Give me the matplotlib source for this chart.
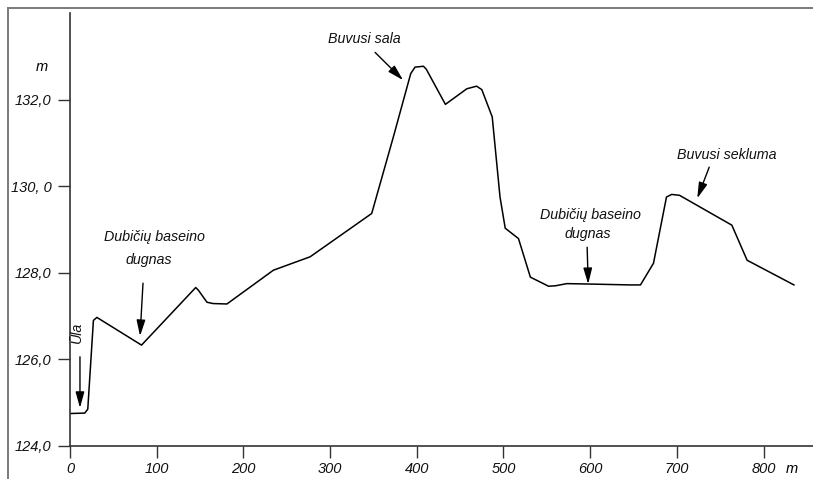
import matplotlib
matplotlib.use("Agg")
import matplotlib.pyplot as plt
from matplotlib.lines import Line2D

plt.rcParams['font.family'] = ['Liberation Sans', 'DejaVu Sans']
plt.rcParams['font.style'] = 'italic'

# Profile: distance along the section (m) and surface elevation (m)
distance = [0, 17, 20.5, 27, 31, 82.5, 145, 148, 158, 165, 181, 234.6, 277, 348,
            373, 393, 398, 407.7, 411, 433, 457.7, 469, 475, 487, 496, 502,
            517.3, 531, 552, 560, 573, 600, 646, 658, 673, 688, 694, 703,
            763.4, 781, 835]
elevation = [124.75, 124.76, 124.85, 126.9, 126.97, 126.33, 127.66, 127.6, 127.32,
             127.29, 127.28, 128.06, 128.37, 129.37, 131.14, 132.6, 132.75, 132.77,
             132.7, 131.89, 132.25, 132.31, 132.23, 131.6, 129.75, 129.03, 128.79,
             127.9, 127.69, 127.7, 127.75, 127.74, 127.72, 127.72, 128.22, 129.75,
             129.81, 129.79, 129.1, 128.29, 127.72]

x_ticks = [0, 100, 200, 300, 400, 500, 600, 700, 800]
x_tick_labels = ['0', '100', '200', '300', '400', '500', '600', '700', '800']
y_ticks = [124, 126, 128, 130, 132]
y_tick_labels = ['124,0', '126,0', '128,0', '130, 0', '132,0']

W, H = 813, 479
fig = plt.figure(figsize=(W / 100, H / 100), dpi=100)
ax = fig.add_axes([70 / W, 33 / H, (W - 70) / W, 433 / H])
ax.set_xlim(0, 857)
ax.set_ylim(124, 134)

ax.plot(distance, elevation, color='black', lw=1.1, solid_joinstyle='round')

for side in ('top', 'right'):
    ax.spines[side].set_visible(False)
for side in ('left', 'bottom'):
    ax.spines[side].set_color('#333333')
    ax.spines[side].set_linewidth(1.2)

ax.set_xticks(x_ticks)
ax.set_xticklabels(x_tick_labels)
ax.set_yticks(y_ticks)
ax.set_yticklabels(y_tick_labels)
ax.tick_params(axis='both', direction='out', length=8.5, width=1.0, color='#333333',
               labelsize=10.5, labelcolor='#111111')
ax.tick_params(axis='x', pad=3)
ax.tick_params(axis='y', pad=5)

# Unit labels
ax.text(-32, 132.75, 'm', fontsize=10.5, ha='center', va='center', clip_on=False)
ax.text(833, 123.48, 'm', fontsize=10.5, ha='center', va='center', clip_on=False)

arrow = dict(arrowstyle='-|>,head_length=0.8,head_width=0.22', color='black',
             lw=1.0, mutation_scale=12, shrinkA=0, shrinkB=0)
txt = dict(fontsize=10.3, ha='center', va='center', color='#111111')

# Annotations
ax.text(339, 133.41, 'Buvusi sala', **txt)
ax.annotate('', xy=(384.2, 132.45), xytext=(351.9, 133.09), arrowprops=arrow)

ax.text(97.7, 128.82, 'Dubičių baseino', **txt)
ax.text(90.3, 128.29, 'dugnas', **txt)
ax.annotate('', xy=(80.8, 126.54), xytext=(84.2, 127.76), arrowprops=arrow)

ax.text(600, 129.33, 'Dubičių baseino', **txt)
ax.text(597.7, 128.9, 'dugnas', **txt)
ax.annotate('', xy=(597.7, 127.74), xytext=(596.5, 128.59), arrowprops=arrow)

ax.text(758, 130.72, 'Buvusi sekluma', **txt)
ax.annotate('', xy=(723.5, 129.72), xytext=(737.3, 130.44), arrowprops=arrow)

ax.text(8, 126.62, 'Ūla', rotation=90, **txt)
ax.annotate('', xy=(11.5, 124.88), xytext=(11.5, 126.06), arrowprops=arrow)

# Frame lines along the top and left edges of the figure
fig.add_artist(Line2D([8 / W, 8 / W], [0, 1 - 8 / H], transform=fig.transFigure,
                      color='#7a7a7a', lw=1.4))
fig.add_artist(Line2D([8 / W, 1], [1 - 8 / H, 1 - 8 / H], transform=fig.transFigure,
                      color='#7a7a7a', lw=1.4))

fig.savefig('out.png', dpi=100)
